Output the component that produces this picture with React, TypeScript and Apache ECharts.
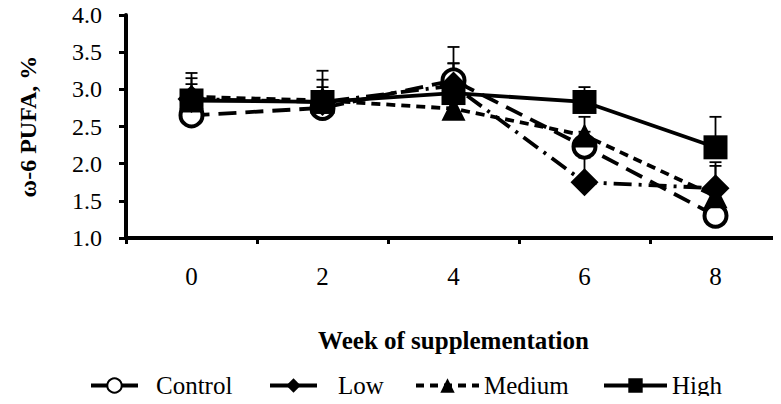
import React, { useEffect, useRef } from "react";
import * as echarts from "echarts";

const weeks = ["0", "2", "4", "6", "8"];
const control = [2.65, 2.75, 3.12, 2.23, 1.3];
const low = [2.87, 2.83, 3.05, 1.75, 1.67];
const medium = [2.9, 2.85, 2.74, 2.38, 1.56];
const high = [2.85, 2.83, 2.95, 2.83, 2.22];
const controlErr = [0.15, 0.15, 0.45, 0.2, 0.15];
const lowErr = [0.2, 0.2, 0.3, 0.33, 0.3];
const mediumErr = [0.32, 0.4, 0.35, 0.25, 0.46];
const highErr = [0.3, 0.3, 0.4, 0.2, 0.41];
const yTicks = ["1.0", "1.5", "2.0", "2.5", "3.0", "3.5", "4.0"];

const FONT = "'Liberation Serif', 'Times New Roman', serif";

export default function App() {
  const ref = useRef<HTMLDivElement>(null);
  useEffect(() => {
    if (!ref.current) return;
    const chart = echarts.init(ref.current, undefined, { renderer: "svg" });
    const errSeries = (vals: number[], errs: number[]) => ({
      type: "custom",
      silent: true,
      z: 1,
      data: vals.map((v, i) => [i, v, v + errs[i]]),
      renderItem: (params: any, api: any) => {
        const p = api.coord([api.value(0), api.value(1)]);
        const t = api.coord([api.value(0), api.value(2)]);
        const style = { stroke: "#000", lineWidth: 1.8 };
        return {
          type: "group",
          children: [
            { type: "line", shape: { x1: p[0], y1: p[1], x2: t[0], y2: t[1] }, style },
            { type: "line", shape: { x1: t[0] - 6, y1: t[1], x2: t[0] + 6, y2: t[1] }, style },
          ],
        };
      },
    });
    const lineSeries = (name: string, vals: number[], symbol: string, size: number, dash: any, open: boolean) => ({
      name,
      type: "line",
      z: 3,
      data: vals,
      symbol,
      symbolSize: size,
      showAllSymbol: true,
      lineStyle: { color: "#000", width: 3.8, type: dash },
      itemStyle: { color: open ? "#fff" : "#000", borderColor: "#000", borderWidth: open ? 4 : 0 },
    });
    const legend = (name: string, left: number, w: number, pad: number, dash: any) => ({
      data: [name],
      left,
      top: 373,
      padding: 0,
      itemWidth: w,
      itemHeight: 18,
      selectedMode: false,
      lineStyle: { type: dash, width: 4 },
      textStyle: { fontFamily: FONT, fontSize: 25, color: "#000", padding: [0, 0, 0, pad] },
    });
    chart.setOption({
      animation: false,
      backgroundColor: "#fff",
      legend: [
        legend("Control", 89, 47, 13, "solid"),
        legend("Low", 268, 47, 16, "solid"),
        legend("Medium", 414, 63, 0, [8, 6]),
        legend("High", 602, 63, 0, "solid"),
      ],
      grid: { left: 126, top: 15, width: 665, height: 223, containLabel: false },
      xAxis: {
        type: "category",
        data: weeks,
        boundaryGap: true,
        name: "Week of supplementation",
        nameLocation: "middle",
        nameGap: 90,
        nameTextStyle: { fontFamily: FONT, fontSize: 25, fontWeight: "bold", color: "#000" },
        axisLine: { lineStyle: { color: "#000", width: 4 } },
        axisTick: { show: true, length: 6, lineStyle: { color: "#000", width: 3 } },
        axisLabel: { fontFamily: FONT, fontSize: 25, color: "#000", margin: 26 },
        splitLine: { show: false },
      },
      yAxis: {
        type: "value",
        min: 1,
        max: 4,
        interval: 0.5,
        name: "ω-6 PUFA, %",
        nameLocation: "middle",
        nameGap: 86,
        nameTextStyle: { fontFamily: FONT, fontSize: 24, fontWeight: "bold", color: "#000" },
        axisLine: { show: true, lineStyle: { color: "#000", width: 4 } },
        axisTick: { show: true, length: 7, lineStyle: { color: "#000", width: 3 } },
        axisLabel: {
          fontFamily: FONT,
          fontSize: 24,
          color: "#000",
          margin: 24,
          formatter: (v: number) => yTicks[Math.round((v - 1) / 0.5)] ?? v.toFixed(1),
        },
        splitLine: { show: false },
      },
      series: [
        errSeries(control, controlErr),
        errSeries(low, lowErr),
        errSeries(medium, mediumErr),
        errSeries(high, highErr),
        lineSeries("Control", control, "circle", 22, [18, 9], true),
        lineSeries("Low", low, "diamond", 28, [18, 7, 3, 7], false),
        lineSeries("Medium", medium, "triangle", 24, [9, 6], false),
        lineSeries("High", high, "rect", 24, "solid", false),
      ],
    });
    return () => chart.dispose();
  }, []);
  return <div ref={ref} style={{ width: 781, height: 404, margin: -8 }} />;
}
